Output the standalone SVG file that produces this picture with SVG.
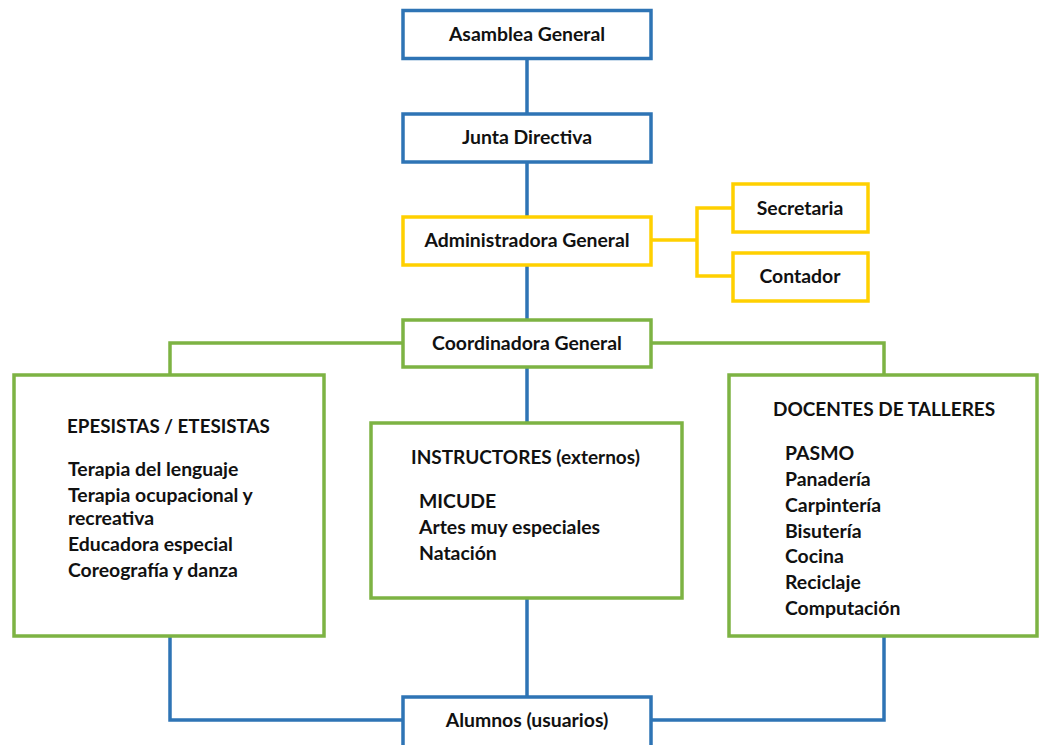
<svg xmlns="http://www.w3.org/2000/svg" width="1039" height="745" viewBox="0 0 1039 745">
<style>
.b{fill:#fff;stroke:#2E74B5;stroke-width:3.5}
.y{fill:#fff;stroke:#FFD000;stroke-width:3.5}
.g{fill:#fff;stroke:#7DB343;stroke-width:3.5}
.lb{fill:none;stroke:#2E74B5;stroke-width:3.5}
.ly{fill:none;stroke:#FFD000;stroke-width:3.5}
.lg{fill:none;stroke:#7DB343;stroke-width:3.5}
text{font-family:Lato,"Liberation Sans",sans-serif;font-weight:bold;font-size:19.4px;fill:#111}
.c{text-anchor:middle}
.t{font-size:19px}
</style>
<rect width="1039" height="745" fill="#fff"/>
<g id="connectors">
<path class="lb" d="M527 59V113M527 162V216M527 265V319M527 367V422M527 599V697"/>
<path class="ly" d="M651 240H697M732 208H697V276H732"/>
<path class="lg" d="M403 343H170V374M651 343H884V375"/>
<path class="lb" d="M170 637V720H403M884 637V720H651"/>
</g>
<g id="asamblea"><rect class="b" x="403" y="10.5" width="248" height="48"/><text class="c" x="527" y="41">Asamblea General</text></g>
<g id="junta"><rect class="b" x="403" y="114" width="248" height="48"/><text class="c" x="527" y="144">Junta Directiva</text></g>
<g id="administradora"><rect class="y" x="403" y="217" width="248" height="48"/><text class="c" x="527" y="247">Administradora General</text></g>
<g id="secretaria"><rect class="y" x="733" y="184" width="135" height="48"/><text class="c" x="800" y="215">Secretaria</text></g>
<g id="contador"><rect class="y" x="733" y="253" width="135" height="48"/><text class="c" x="800" y="283">Contador</text></g>
<g id="coordinadora"><rect class="g" x="403" y="320" width="248" height="47"/><text class="c" x="527" y="350">Coordinadora General</text></g>
<g id="epesistas"><rect class="g" x="14" y="375" width="310" height="261"/>
<text class="t" x="67" y="433" style="font-size:18.8px">EPESISTAS / ETESISTAS</text>
<text x="68" y="476">Terapia del lenguaje</text>
<text x="68" y="502">Terapia ocupacional y</text>
<text x="68" y="525">recreativa</text>
<text x="68" y="551">Educadora especial</text>
<text x="68" y="577">Coreografía y danza</text></g>
<g id="instructores"><rect class="g" x="371" y="423" width="311" height="175"/>
<text class="t" x="411" y="464">INSTRUCTORES (externos)</text>
<text x="419" y="508">MICUDE</text>
<text x="419" y="534">Artes muy especiales</text>
<text x="419" y="560">Natación</text></g>
<g id="docentes"><rect class="g" x="729" y="375" width="308" height="261"/>
<text class="t" x="773" y="416">DOCENTES DE TALLERES</text>
<text x="785" y="460">PASMO</text>
<text x="785" y="486">Panadería</text>
<text x="785" y="512">Carpintería</text>
<text x="785" y="538">Bisutería</text>
<text x="785" y="563">Cocina</text>
<text x="785" y="589">Reciclaje</text>
<text x="785" y="615">Computación</text></g>
<g id="alumnos"><rect class="b" x="403" y="697" width="248" height="52"/><text class="c" x="527" y="727">Alumnos (usuarios)</text></g>
</svg>
